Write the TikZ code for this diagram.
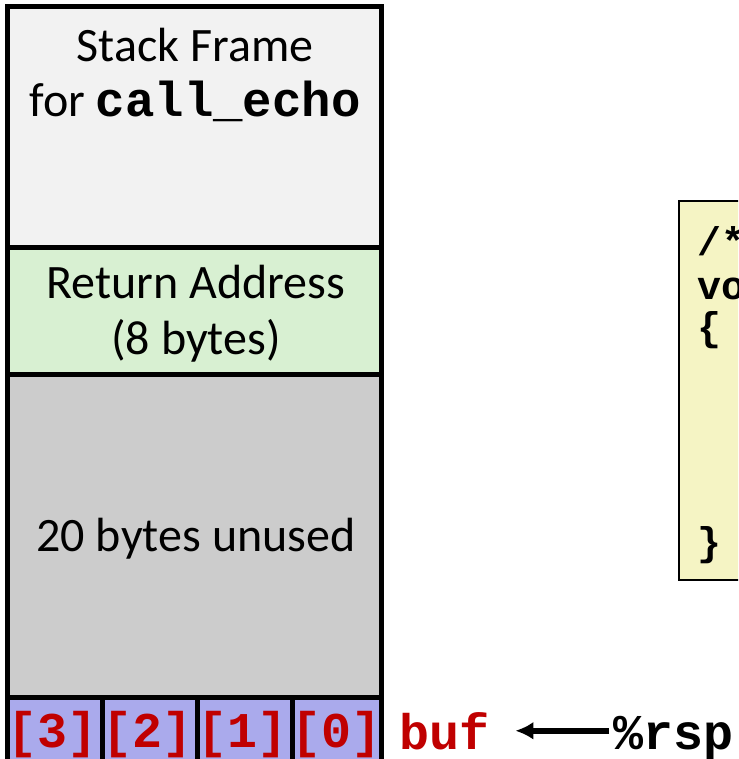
\documentclass[tikz,border=0pt]{standalone}
\usepackage{fontspec}
\setmainfont{Carlito}
\setmonofont{Liberation Mono}
\usepackage{xcolor}
\usetikzlibrary{arrows.meta}

\definecolor{framegray}{RGB}{242,242,242}
\definecolor{retgreen}{RGB}{216,240,210}
\definecolor{unusedgray}{RGB}{204,204,204}
\definecolor{buflav}{RGB}{170,170,236}
\definecolor{bufred}{RGB}{192,0,0}
\definecolor{codeyellow}{RGB}{245,244,196}

\tikzset{
  stacktext/.style={font=\fontsize{48}{55}\selectfont, align=center, inner sep=0pt, anchor=base},
  celltext/.style={font=\fontsize{50}{50}\selectfont\ttfamily\bfseries, text=bufred, inner sep=0pt, anchor=base},
  codetext/.style={font=\fontsize{40}{40}\selectfont\ttfamily\bfseries, inner sep=0pt, anchor=base west},
  rsparrow/.style={line width=6pt, -{Latex[length=18pt,width=18pt]}}
}

\begin{document}
\begin{tikzpicture}[x=1pt,y=-1pt]
    \useasboundingbox (0,0) rectangle (738,759);
    \clip (0,0) rectangle (738,759);
    % stack column
    \filldraw[fill=framegray, line width=5pt]
      (7,7) rectangle (381,247);
    \filldraw[fill=retgreen, line width=5pt]
      (7,247) rectangle (381,374);
    \filldraw[fill=unusedgray, line width=5pt]
      (7,374) rectangle (381,697);
    \foreach \x in {7,102,197}
      \filldraw[fill=buflav, line width=5pt] (\x,697) rectangle ++(95,66);
    \filldraw[fill=buflav, line width=5pt] (292,697) rectangle (381,763);
    % texts in the stack
    \node[stacktext] (frame) at (195,62) {Stack Frame};
    \node[stacktext] (frame2) at (195,117)
      {for {\fontsize{49}{49}\selectfont\ttfamily\bfseries call\_echo}};
    \node[stacktext] (ret) at (196,298) {Return Address};
    \node[stacktext] (ret2) at (196,354) {(8 bytes)};
    \node[stacktext] (unused) at (196,551) {20 bytes unused};
    \node[celltext] (b3) at (53,747) {[3]};
    \node[celltext] (b2) at (148,747) {[2]};
    \node[celltext] (b1) at (243,747) {[1]};
    \node[celltext] (b0) at (337,747) {[0]};
    % buf and %rsp
    \node[celltext, anchor=base west] (buf) at (399,749) {buf};
    \node[celltext, anchor=base west, text=black] (rsp) at (613,749) {\%rsp};
    \draw[rsparrow, shorten <=4pt, shorten >=26pt]
      (rsp.west |- buf.east) -- (buf.east);
    % code box
    \filldraw[fill=codeyellow, line width=2pt]
      (679,201) rectangle (760,580);
    \node[codetext] (c1) at (697,255) {/*};
    \node[codetext] (c2) at (697,299) {vo};
    \node[codetext] (c3) at (697,340) {\{};
    \node[codetext] (c4) at (697,555) {\}};
\end{tikzpicture}
\end{document}
